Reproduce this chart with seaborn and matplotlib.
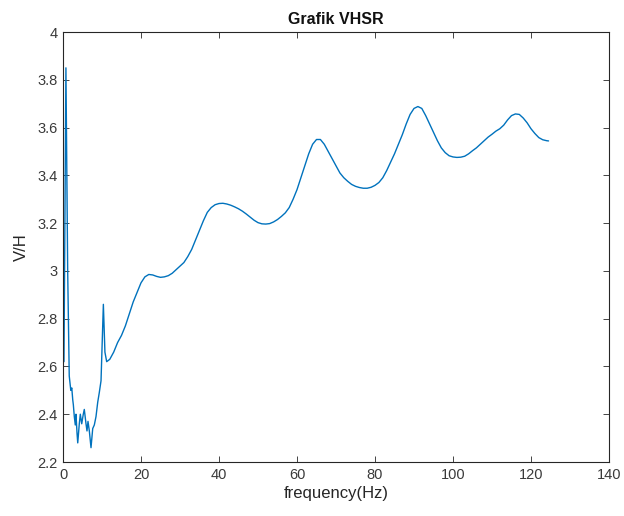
import matplotlib
matplotlib.use("Agg")
import matplotlib.pyplot as plt
import seaborn as sns
import pandas as pd

# H/V spectral ratio samples: frequency (Hz) and V/H amplitude
freq_low = [0.0, 0.25, 0.75, 1.2, 1.6, 2.0, 2.25, 2.5, 2.65, 2.9, 3.15, 3.33, 3.6, 3.78,
            4.18, 4.44, 4.8, 5.2, 5.46, 5.9, 6.15, 6.41, 6.75, 7.18, 7.62, 8.03, 8.46,
            8.9, 9.3, 9.75, 10.35, 10.75, 11.2]
vh_low = [2.93, 2.62, 3.85, 3.0, 2.56, 2.50, 2.51, 2.46, 2.44, 2.39, 2.355, 2.40, 2.32, 2.28,
          2.36, 2.40, 2.36, 2.40, 2.42, 2.36, 2.33, 2.37, 2.33, 2.26, 2.34, 2.355, 2.39,
          2.45, 2.49, 2.54, 2.86, 2.66, 2.62]

freq_high = list(range(12, 125)) + [124.5]
vh_high = [2.63, 2.66, 2.70, 2.73, 2.77, 2.82, 2.87, 2.91, 2.95, 2.975,
           2.985, 2.983, 2.977, 2.973, 2.975, 2.98, 2.99, 3.005, 3.02, 3.035,
           3.06, 3.09, 3.13, 3.17, 3.21, 3.245, 3.265, 3.277, 3.282, 3.283,
           3.28, 3.275, 3.268, 3.26, 3.25, 3.238, 3.225, 3.212, 3.202, 3.197,
           3.196, 3.198, 3.205, 3.215, 3.228, 3.243, 3.265, 3.30, 3.34, 3.39,
           3.44, 3.49, 3.53, 3.55, 3.55, 3.53, 3.50, 3.47, 3.44, 3.41,
           3.39, 3.375, 3.362, 3.354, 3.349, 3.346, 3.346, 3.35, 3.358, 3.37,
           3.39, 3.42, 3.455, 3.49, 3.53, 3.57, 3.615, 3.655, 3.68, 3.688,
           3.68, 3.65, 3.615, 3.58, 3.545, 3.515, 3.495, 3.482, 3.477, 3.475,
           3.476, 3.48, 3.49, 3.503, 3.515, 3.53, 3.545, 3.56, 3.572, 3.585,
           3.595, 3.61, 3.632, 3.65, 3.657, 3.655, 3.64, 3.62, 3.595, 3.575,
           3.558, 3.549, 3.545, 3.544]

x_ticks = [0, 20, 40, 60, 80, 100, 120, 140]
y_ticks = [2.2, 2.4, 2.6, 2.8, 3.0, 3.2, 3.4, 3.6, 3.8, 4.0]
y_tick_labels = ["2.2", "2.4", "2.6", "2.8", "3", "3.2", "3.4", "3.6", "3.8", "4"]

df = pd.DataFrame({"frequency": freq_low + freq_high, "vh": vh_low + vh_high})

sns.set_style("ticks")
plt.rcParams["font.family"] = ["Liberation Sans", "DejaVu Sans"]

fig = plt.figure(figsize=(6.24, 5.16), dpi=100)
ax = fig.add_axes([63 / 624, 1 - 462 / 516, (609 - 63) / 624, (462 - 32) / 516])

sns.lineplot(data=df, x="frequency", y="vh", ax=ax, color="#0072BD",
             linewidth=1.0, sort=False, estimator=None)

ax.set_xlim(0, 140)
ax.set_ylim(2.2, 4.0)
ax.set_xticks(x_ticks)
ax.set_xticklabels([str(t) for t in x_ticks])
ax.set_yticks(y_ticks)
ax.set_yticklabels(y_tick_labels)

edge = "#262626"
for side in ["left", "right", "top", "bottom"]:
    ax.spines[side].set_visible(True)
    ax.spines[side].set_color(edge)
    ax.spines[side].set_linewidth(0.8)
ax.tick_params(axis="both", which="both", direction="in", length=4, width=0.6,
               colors=edge, labelsize=10.5, top=True, right=True, pad=4)
for lbl in ax.get_xticklabels() + ax.get_yticklabels():
    lbl.set_color("#3a3a3a")

ax.set_xlabel("frequency(Hz)", fontsize=12, color="#262626", labelpad=3)
ax.set_ylabel("V/H", fontsize=12, color="#262626", labelpad=6)
ax.set_title("Grafik VHSR", fontsize=11.5, fontweight="bold", color="#111111", pad=6)

fig.savefig("out.png", dpi=100, facecolor="white")
